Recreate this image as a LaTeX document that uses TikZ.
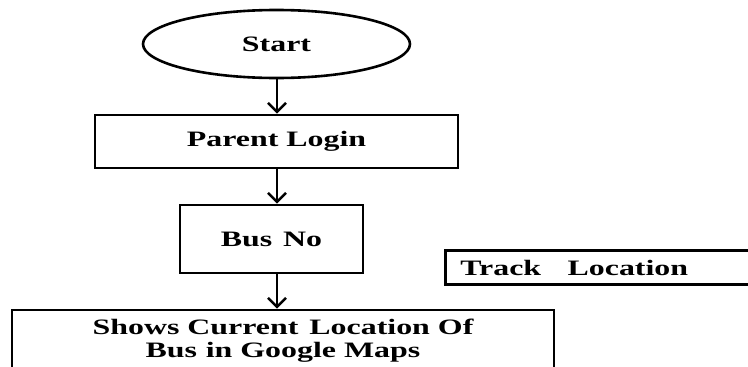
\documentclass[tikz,border=0pt]{standalone}
\usepackage{fontspec}
\setmainfont{Liberation Serif}[FakeStretch=1.45]
\usetikzlibrary{shapes.geometric,arrows.meta}
\tikzset{
  box/.style={draw, line width=2.6pt, rectangle, inner sep=0pt, font=\fontsize{22}{23}\selectfont\bfseries},
  oval/.style={draw, line width=2.6pt, ellipse, inner sep=0pt, font=\fontsize{22}{23}\selectfont\bfseries},
  arr/.style={line width=2.6pt, -{Straight Barb[length=9pt,width=18pt]}}
}
\begin{document}
\begin{tikzpicture}[x=1pt,y=-1pt]
\useasboundingbox (0,0) rectangle (748,367);
\node[oval, minimum width=267pt, minimum height=68pt] (start) at (276.5,44) {Start};
\node[box, minimum width=363pt, minimum height=53pt] (login) at (276.5,141.5) {Parent Login};
\node[box, minimum width=183pt, minimum height=68pt] (busno) at (271.5,239) {Bus\hspace{0.5em}No};
\node[box, anchor=west, text width=278pt, inner xsep=15pt, minimum height=34pt, align=left] (track) at (444,267.5) {Track\hspace{1.2em}Location};
\node[box, minimum width=542pt, minimum height=62pt, align=center] (shows) at (283,341) {Shows Current\hspace{0.5em}Location Of\\Bus\hspace{0.4em}in Google Maps};
\draw[arr] (start.south -| 277,0) -- (login.north -| 277,0);
\draw[arr] (login.south -| 277,0) -- (busno.north -| 277,0);
\draw[arr] (busno.south -| 277,0) -- (shows.north -| 277,0);
\end{tikzpicture}
\end{document}
